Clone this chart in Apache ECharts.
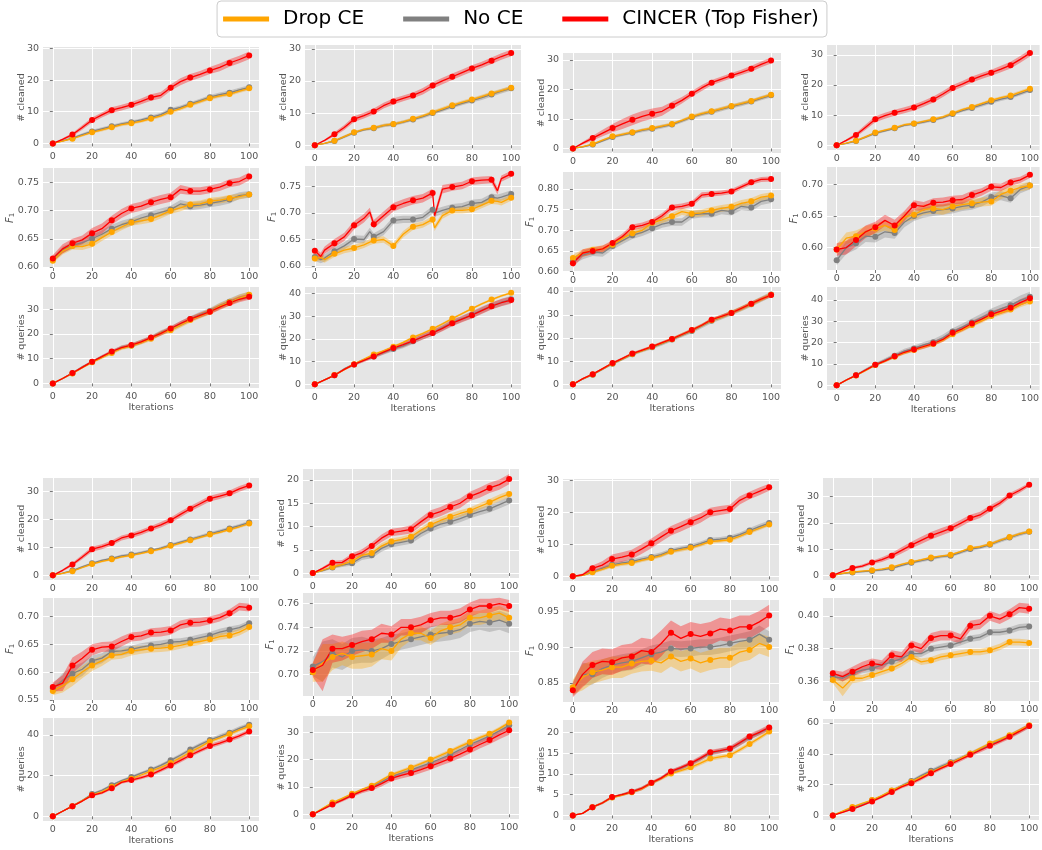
<!DOCTYPE html>
<html><head><meta charset="utf-8">
<script src="https://cdn.jsdelivr.net/npm/echarts@6/dist/echarts.min.js"></script>
<style>html,body{margin:0;padding:0;background:#fff}#c{width:1042px;height:850px}</style>
</head><body><div id="c"></div>
<script>
// ---------------- DATA ----------------
const ITERS = [0,5,10,15,20,25,30,35,40,45,50,55,60,65,70,75,80,85,90,95,100];
const ITERS_T2_F1 = [0,3,5,10,15,20,25,28,30,35,40,45,50,55,60,61,65,70,75,80,85,90,93,95,100];
const SERIES_NAMES = ['Drop CE','No CE','CINCER (Top Fisher)'];
const X_TICKS = ['0','20','40','60','80','100'];

// each array: [Drop CE, No CE, CINCER]
const T1_cleaned = [
 [0,0.7,1.5,2.5,3.5,4.3,5.1,5.9,6.4,7.0,7.8,8.7,10.0,11.0,12.2,13.2,14.3,15.0,15.6,16.5,17.4],
 [0,0.8,1.7,2.8,3.8,4.6,5.4,6.2,6.7,7.4,8.2,9.1,10.6,11.4,12.5,13.5,14.6,15.4,16.0,16.9,17.7],
 [0,1.3,2.8,5.0,7.4,9.0,10.5,11.3,12.2,13.3,14.5,15.2,17.6,19.5,20.8,21.8,23.0,24.0,25.4,26.5,27.8]];
const T1_cleaned_sd = [
 [0,0.2,0.3,0.4,0.4,0.5,0.5,0.5,0.5,0.5,0.5,0.5,0.6,0.6,0.6,0.6,0.6,0.6,0.6,0.6,0.6],
 [0,0.2,0.3,0.4,0.5,0.5,0.5,0.5,0.5,0.5,0.6,0.6,0.6,0.6,0.6,0.6,0.7,0.7,0.7,0.7,0.7],
 [0,0.3,0.5,0.7,0.8,0.8,0.9,0.9,0.9,0.9,1.0,1.0,1.0,1.1,1.1,1.1,1.1,1.2,1.2,1.2,1.2]];
const T1_f1 = [
 [0.611,0.628,0.637,0.636,0.641,0.652,0.662,0.671,0.679,0.682,0.685,0.692,0.700,0.705,0.711,0.712,0.717,0.719,0.722,0.725,0.729],
 [0.613,0.630,0.638,0.643,0.650,0.658,0.668,0.675,0.680,0.687,0.692,0.697,0.702,0.712,0.708,0.710,0.713,0.716,0.720,0.727,0.729],
 [0.615,0.632,0.642,0.648,0.660,0.668,0.683,0.695,0.704,0.708,0.715,0.720,0.724,0.738,0.735,0.735,0.738,0.742,0.749,0.752,0.761]];
const T1_f1_sd = [
 [0.005,0.006,0.006,0.006,0.006,0.006,0.006,0.006,0.006,0.006,0.006,0.006,0.006,0.006,0.006,0.006,0.006,0.006,0.006,0.005,0.005],
 [0.005,0.006,0.006,0.007,0.007,0.007,0.007,0.007,0.007,0.007,0.007,0.007,0.007,0.007,0.007,0.007,0.007,0.007,0.007,0.006,0.006],
 [0.006,0.008,0.008,0.008,0.009,0.009,0.008,0.008,0.008,0.008,0.008,0.008,0.008,0.008,0.007,0.007,0.007,0.007,0.007,0.007,0.007]];
const T1_queries = [
 [0,2.0,4.0,6.4,8.5,10.5,12.3,14.2,15.2,16.5,18.0,20.3,21.5,23.5,25.6,27.3,29.0,31.2,32.8,34.5,35.8],
 [0,2.0,4.1,6.6,8.7,10.8,12.6,14.6,15.3,16.8,18.4,20.5,22.0,24.0,26.0,27.8,29.3,31.3,33.0,34.6,35.6],
 [0,2.0,4.2,6.5,8.8,10.8,12.9,14.5,15.5,16.8,18.5,20.2,22.2,24.2,26.0,27.5,29.0,30.8,32.5,34.0,35.0]];
const T1_queries_sd = [
 [0,0.3,0.4,0.5,0.5,0.6,0.7,0.7,0.8,0.8,0.9,0.9,1.0,1.0,1.1,1.1,1.2,1.2,1.3,1.3,1.3],
 [0,0.3,0.4,0.5,0.6,0.7,0.7,0.8,0.8,0.9,0.9,1.0,1.0,1.1,1.1,1.2,1.2,1.3,1.3,1.4,1.4],
 [0,0.3,0.4,0.5,0.5,0.6,0.6,0.7,0.7,0.8,0.8,0.9,0.9,1.0,1.0,1.0,1.1,1.1,1.1,1.2,1.2]];

const T2_cleaned = [
 [0,0.6,1.4,2.7,4.0,4.9,5.4,6.2,6.6,7.3,8.2,9.1,10.2,11.3,12.4,13.3,14.2,15.1,16.1,17.0,17.9],
 [0,0.6,1.3,2.6,3.9,4.8,5.3,6.1,6.5,7.2,8.0,8.9,10.0,11.0,12.1,13.0,13.9,14.8,15.8,16.8,17.7],
 [0,1.5,3.4,5.5,8.1,9.2,10.5,12.3,13.6,14.6,15.5,16.8,18.6,20.0,21.3,22.6,23.9,25.0,26.3,27.6,28.7]];
const T2_cleaned_sd = [
 [0,0.2,0.3,0.4,0.4,0.4,0.4,0.5,0.5,0.5,0.5,0.5,0.6,0.6,0.6,0.6,0.6,0.6,0.6,0.6,0.6],
 [0,0.2,0.3,0.4,0.4,0.4,0.5,0.5,0.5,0.5,0.5,0.6,0.6,0.6,0.6,0.6,0.6,0.7,0.7,0.7,0.7],
 [0,0.3,0.6,0.8,0.9,0.9,0.9,0.9,0.9,0.9,0.9,1.0,1.0,1.0,1.0,1.0,1.0,1.0,1.0,1.0,1.0]];
const T2_f1 = [
 [0.614,0.616,0.612,0.623,0.630,0.634,0.640,0.645,0.648,0.650,0.638,0.660,0.674,0.678,0.688,0.672,0.695,0.705,0.705,0.707,0.715,0.723,0.722,0.720,0.729],
 [0.617,0.612,0.615,0.628,0.638,0.651,0.650,0.665,0.655,0.665,0.686,0.688,0.688,0.692,0.706,0.700,0.705,0.710,0.712,0.718,0.720,0.730,0.728,0.730,0.736],
 [0.629,0.618,0.630,0.643,0.655,0.677,0.690,0.702,0.679,0.695,0.711,0.718,0.724,0.728,0.738,0.695,0.745,0.749,0.752,0.760,0.762,0.763,0.742,0.765,0.774]];
const T2_f1_sd = [
 [0.006,0.006,0.006,0.006,0.006,0.006,0.006,0.006,0.006,0.006,0.006,0.006,0.006,0.006,0.006,0.006,0.006,0.006,0.006,0.006,0.006,0.006,0.006,0.006,0.006],
 [0.007,0.007,0.007,0.007,0.007,0.007,0.007,0.007,0.007,0.007,0.007,0.007,0.007,0.007,0.007,0.007,0.007,0.007,0.007,0.007,0.007,0.007,0.007,0.007,0.007],
 [0.006,0.007,0.007,0.008,0.008,0.008,0.008,0.008,0.008,0.008,0.008,0.008,0.008,0.008,0.008,0.008,0.008,0.007,0.007,0.007,0.007,0.007,0.007,0.006,0.006]];
const T2_queries = [
 [0,2.0,4.1,6.5,8.9,11.0,13.2,14.8,16.6,18.5,20.7,22.5,24.5,26.7,29.0,31.2,33.4,35.5,37.4,39.0,40.4],
 [0,2.0,4.0,6.8,8.8,10.7,12.3,14.0,15.6,17.0,19.0,21.0,22.7,25.0,27.3,29.0,30.7,32.8,34.6,36.2,37.5],
 [0,2.0,4.0,6.6,8.8,10.6,12.3,14.2,16.0,17.5,19.2,21.0,22.7,24.7,27.0,28.8,30.5,32.5,34.5,36.0,37.2]];
const T2_queries_sd = [
 [0,0.2,0.3,0.4,0.4,0.5,0.5,0.5,0.5,0.5,0.5,0.5,0.5,0.5,0.5,0.5,0.5,0.5,0.5,0.5,0.5],
 [0,0.3,0.4,0.5,0.6,0.7,0.8,0.9,1.0,1.1,1.2,1.2,1.3,1.3,1.4,1.4,1.5,1.5,1.5,1.6,1.6],
 [0,0.3,0.4,0.5,0.6,0.7,0.8,0.9,1.0,1.1,1.1,1.2,1.3,1.3,1.4,1.4,1.5,1.5,1.5,1.6,1.6]];

const T3_cleaned = [
 [0,0.6,1.5,2.8,4.1,4.8,5.5,6.3,6.9,7.6,8.3,9.5,10.8,11.8,12.6,13.5,14.4,15.2,16.1,17.2,18.2],
 [0,0.5,1.3,2.6,3.9,4.6,5.3,6.1,6.7,7.4,8.1,9.3,10.6,11.6,12.4,13.3,14.2,15.0,15.9,17.0,18.0],
 [0,1.8,3.5,5.2,6.9,8.3,9.7,10.9,11.8,12.6,14.5,16.3,18.5,20.5,22.3,23.5,24.7,25.8,27.0,28.5,29.8]];
const T3_cleaned_sd = [
 [0,0.2,0.3,0.4,0.4,0.5,0.5,0.5,0.5,0.5,0.5,0.5,0.6,0.6,0.6,0.6,0.6,0.6,0.6,0.6,0.6],
 [0,0.2,0.3,0.4,0.5,0.5,0.5,0.6,0.6,0.6,0.6,0.6,0.6,0.6,0.7,0.7,0.7,0.7,0.7,0.7,0.7],
 [0,0.5,0.8,1.1,1.4,1.7,1.8,1.8,1.7,1.5,1.3,1.1,1.0,1.0,0.9,0.9,0.9,0.9,1.0,1.0,1.0]];
const T3_f1 = [
 [0.633,0.645,0.652,0.655,0.665,0.680,0.693,0.700,0.718,0.725,0.734,0.745,0.740,0.742,0.748,0.753,0.757,0.765,0.770,0.780,0.784],
 [0.625,0.640,0.648,0.645,0.662,0.675,0.688,0.695,0.705,0.715,0.720,0.720,0.737,0.740,0.740,0.748,0.745,0.758,0.755,0.770,0.775],
 [0.620,0.645,0.650,0.655,0.669,0.685,0.707,0.712,0.720,0.735,0.755,0.758,0.764,0.785,0.788,0.790,0.794,0.805,0.816,0.823,0.824]];
const T3_f1_sd = [
 [0.008,0.009,0.009,0.008,0.008,0.008,0.008,0.008,0.008,0.008,0.008,0.008,0.008,0.008,0.008,0.008,0.008,0.008,0.008,0.008,0.008],
 [0.008,0.010,0.010,0.009,0.009,0.009,0.009,0.009,0.009,0.009,0.009,0.009,0.009,0.009,0.009,0.009,0.009,0.009,0.009,0.009,0.009],
 [0.010,0.009,0.008,0.008,0.007,0.007,0.007,0.007,0.007,0.007,0.007,0.007,0.007,0.007,0.006,0.006,0.006,0.006,0.006,0.006,0.006]];
const T3_queries = [
 [0,2.4,4.3,6.7,9.0,11.0,13.1,14.6,16.2,17.8,19.5,21.4,23.3,25.4,27.7,29.1,30.9,32.7,34.7,36.7,38.7],
 [0,2.3,4.2,6.6,8.9,10.9,13.0,14.5,16.0,17.6,19.3,21.2,23.0,25.2,27.4,29.0,30.8,32.6,34.6,36.7,38.8],
 [0,2.5,4.4,6.8,9.2,11.2,13.3,14.8,16.3,18.0,19.6,21.5,23.4,25.5,27.9,29.3,30.8,32.8,34.8,36.8,38.5]];
const T3_queries_sd = [
 [0,0.3,0.4,0.5,0.5,0.6,0.6,0.6,0.7,0.7,0.7,0.8,0.8,0.8,0.9,0.9,0.9,1.0,1.0,1.0,1.0],
 [0,0.3,0.4,0.5,0.6,0.6,0.7,0.7,0.8,0.8,0.8,0.9,0.9,1.0,1.0,1.0,1.1,1.1,1.1,1.2,1.2],
 [0,0.3,0.4,0.4,0.5,0.5,0.5,0.6,0.6,0.6,0.6,0.7,0.7,0.7,0.7,0.8,0.8,0.8,0.8,0.8,0.8]];

const T4_cleaned = [
 [0,0.7,1.5,2.8,4.2,5.0,5.8,6.8,7.2,7.9,8.6,9.4,10.6,11.8,12.7,13.8,14.9,15.8,16.5,17.6,18.75],
 [0,0.6,1.4,2.7,4.0,4.8,5.6,6.6,7.1,7.7,8.4,9.2,10.4,11.5,12.4,13.4,14.4,15.3,16.0,17.1,18.3],
 [0,1.6,3.4,6.0,8.6,9.8,10.8,11.6,12.5,13.8,15.2,17.0,19.0,20.3,21.8,23.0,24.1,25.3,26.6,28.5,30.6]];
const T4_cleaned_sd = [
 [0,0.2,0.3,0.4,0.4,0.4,0.4,0.4,0.4,0.4,0.5,0.5,0.5,0.5,0.5,0.5,0.5,0.5,0.6,0.6,0.6],
 [0,0.2,0.3,0.4,0.4,0.4,0.4,0.4,0.5,0.5,0.5,0.5,0.5,0.5,0.6,0.6,0.6,0.6,0.6,0.6,0.6],
 [0,0.4,0.7,0.9,1.0,1.0,1.0,1.0,1.0,1.0,1.0,1.0,1.0,1.0,1.0,1.0,1.0,1.1,1.1,1.1,1.1]];
const T4_f1 = [
 [0.597,0.615,0.618,0.625,0.630,0.635,0.628,0.648,0.652,0.660,0.662,0.660,0.665,0.668,0.670,0.672,0.673,0.684,0.690,0.695,0.698],
 [0.580,0.600,0.607,0.618,0.617,0.625,0.623,0.640,0.650,0.655,0.658,0.660,0.662,0.665,0.667,0.672,0.680,0.682,0.678,0.692,0.698],
 [0.597,0.600,0.612,0.625,0.632,0.643,0.635,0.650,0.667,0.665,0.671,0.672,0.675,0.676,0.683,0.688,0.696,0.695,0.703,0.707,0.715]];
const T4_f1_sd = [
 [0.008,0.009,0.009,0.009,0.008,0.008,0.008,0.008,0.008,0.008,0.008,0.008,0.008,0.008,0.007,0.007,0.007,0.007,0.007,0.006,0.006],
 [0.008,0.010,0.010,0.009,0.009,0.009,0.009,0.008,0.008,0.008,0.008,0.008,0.008,0.007,0.007,0.007,0.007,0.007,0.007,0.006,0.006],
 [0.010,0.011,0.010,0.010,0.009,0.009,0.009,0.008,0.008,0.007,0.007,0.007,0.007,0.007,0.007,0.006,0.006,0.006,0.006,0.005,0.005]];
const T4_queries = [
 [0,2.4,4.6,7.0,9.5,11.3,13.4,15.2,16.5,18.0,19.4,21.2,24.0,26.0,28.3,30.2,32.5,34.0,35.5,37.8,39.3],
 [0,2.5,4.7,7.3,9.7,11.8,13.9,16.0,17.3,19.0,20.2,22.3,25.2,27.3,29.5,31.8,34.0,35.8,37.5,39.8,41.5],
 [0,2.5,4.7,7.2,9.6,11.5,13.6,15.5,16.8,18.2,19.6,21.5,24.6,26.5,29.0,31.0,33.3,34.8,36.4,38.8,40.8]];
const T4_queries_sd = [
 [0,0.3,0.4,0.5,0.5,0.6,0.6,0.7,0.7,0.8,0.8,0.9,0.9,1.0,1.0,1.0,1.1,1.1,1.1,1.2,1.2],
 [0,0.4,0.5,0.7,0.8,0.9,1.0,1.1,1.2,1.3,1.4,1.5,1.6,1.7,1.8,1.9,2.0,2.1,2.2,2.3,2.4],
 [0,0.3,0.4,0.5,0.6,0.7,0.8,0.9,1.0,1.0,1.1,1.1,1.2,1.2,1.3,1.3,1.4,1.4,1.5,1.5,1.5]];

const B1_cleaned = [
 [0,0.7,1.5,2.8,4.0,5.0,5.7,6.6,7.1,7.8,8.6,9.4,10.5,11.5,12.5,13.5,14.5,15.3,16.3,17.3,18.45],
 [0,0.8,1.7,3.0,4.3,5.3,6.0,6.9,7.4,8.1,8.9,9.7,10.8,11.8,12.8,13.8,14.8,15.7,16.7,17.7,18.8],
 [0,1.8,3.9,6.5,9.3,10.2,11.5,13.3,14.2,15.3,16.7,18.0,19.6,21.7,23.7,25.5,27.3,28.2,29.2,30.8,32.0]];
const B1_cleaned_sd = [
 [0,0.2,0.3,0.4,0.4,0.4,0.4,0.4,0.4,0.4,0.5,0.5,0.5,0.5,0.5,0.5,0.5,0.5,0.5,0.5,0.5],
 [0,0.2,0.3,0.4,0.4,0.4,0.4,0.5,0.5,0.5,0.5,0.5,0.5,0.5,0.6,0.6,0.6,0.6,0.6,0.6,0.6],
 [0,0.4,0.6,0.8,0.9,0.9,0.9,0.9,0.9,0.9,0.9,1.0,1.0,1.0,1.0,1.0,1.0,1.0,1.0,1.0,1.0]];
const B1_f1 = [
 [0.566,0.575,0.587,0.600,0.612,0.620,0.630,0.632,0.638,0.640,0.642,0.643,0.645,0.648,0.652,0.655,0.659,0.664,0.666,0.672,0.681],
 [0.570,0.585,0.597,0.605,0.620,0.625,0.637,0.638,0.641,0.645,0.648,0.650,0.654,0.655,0.658,0.662,0.666,0.672,0.676,0.680,0.688],
 [0.573,0.580,0.612,0.625,0.640,0.645,0.646,0.655,0.663,0.665,0.671,0.672,0.675,0.685,0.689,0.690,0.693,0.698,0.706,0.718,0.716]];
const B1_f1_sd = [
 [0.008,0.012,0.012,0.011,0.010,0.009,0.008,0.008,0.008,0.007,0.007,0.007,0.007,0.006,0.006,0.006,0.006,0.006,0.006,0.006,0.006],
 [0.008,0.013,0.013,0.012,0.010,0.009,0.008,0.008,0.007,0.007,0.007,0.007,0.006,0.006,0.006,0.006,0.006,0.006,0.006,0.005,0.005],
 [0.008,0.014,0.014,0.012,0.010,0.009,0.009,0.009,0.008,0.008,0.008,0.008,0.008,0.008,0.008,0.008,0.007,0.007,0.007,0.007,0.007]];
const B1_queries = [
 [0,2.5,5.0,7.7,10.5,12.0,14.5,17.0,18.5,20.3,22.2,24.0,26.2,28.8,31.5,34.0,36.8,38.5,40.5,42.5,44.2],
 [0,2.5,5.0,7.8,11.0,12.8,15.3,17.5,19.3,21.2,23.0,25.0,27.5,30.0,32.8,35.2,37.5,39.3,41.0,43.2,45.0],
 [0,2.5,5.0,7.5,10.3,11.5,13.8,16.7,17.8,19.0,20.5,22.7,25.0,27.5,30.0,32.3,34.5,36.0,37.7,39.5,41.7]];
const B1_queries_sd = [
 [0,0.3,0.4,0.5,0.5,0.5,0.6,0.6,0.6,0.7,0.7,0.7,0.8,0.8,0.8,0.9,0.9,0.9,1.0,1.0,1.0],
 [0,0.3,0.4,0.5,0.5,0.6,0.6,0.6,0.7,0.7,0.7,0.8,0.8,0.8,0.9,0.9,0.9,1.0,1.0,1.0,1.0],
 [0,0.3,0.4,0.5,0.6,0.6,0.7,0.7,0.8,0.8,0.9,0.9,1.0,1.0,1.0,1.0,1.1,1.1,1.1,1.1,1.1]];

const B2_cleaned = [
 [0,0.6,1.3,1.8,2.6,3.8,4.3,5.8,6.8,7.2,7.8,9.2,10.4,11.3,12.1,12.8,13.4,14.3,15.2,16.2,17.0],
 [0,0.5,1.2,1.7,2.1,3.4,3.8,5.3,6.2,6.6,7.0,8.5,9.6,10.5,11.0,11.7,12.5,13.2,13.8,14.7,15.6],
 [0,1.0,2.2,2.3,3.6,4.4,5.8,7.5,8.7,9.0,9.4,11.0,12.5,13.2,14.2,15.0,16.5,17.3,18.3,19.0,20.2]];
const B2_cleaned_sd = [
 [0,0.2,0.3,0.4,0.5,0.5,0.6,0.6,0.6,0.6,0.6,0.6,0.7,0.7,0.7,0.7,0.7,0.7,0.7,0.7,0.7],
 [0,0.2,0.3,0.4,0.5,0.6,0.6,0.7,0.7,0.7,0.7,0.8,0.8,0.8,0.8,0.8,0.8,0.8,0.8,0.8,0.8],
 [0,0.3,0.4,0.5,0.6,0.7,0.7,0.8,0.8,0.8,0.9,0.9,1.0,1.0,1.0,1.0,1.0,1.1,1.1,1.1,1.1]];
const B2_f1 = [
 [0.702,0.710,0.715,0.718,0.715,0.716,0.717,0.722,0.720,0.730,0.735,0.735,0.731,0.737,0.740,0.742,0.748,0.748,0.750,0.752,0.748],
 [0.707,0.711,0.718,0.715,0.720,0.721,0.720,0.722,0.726,0.728,0.730,0.732,0.734,0.735,0.736,0.738,0.743,0.745,0.744,0.746,0.743],
 [0.704,0.708,0.722,0.722,0.725,0.728,0.730,0.735,0.734,0.740,0.740,0.742,0.746,0.748,0.748,0.750,0.755,0.758,0.758,0.760,0.758]];
const B2_f1_sd = [
 [0.008,0.016,0.011,0.010,0.010,0.011,0.010,0.009,0.008,0.007,0.006,0.006,0.006,0.006,0.006,0.006,0.006,0.006,0.006,0.006,0.006],
 [0.008,0.017,0.012,0.011,0.011,0.011,0.010,0.009,0.008,0.007,0.007,0.007,0.007,0.007,0.007,0.007,0.007,0.007,0.008,0.008,0.008],
 [0.006,0.022,0.012,0.010,0.009,0.009,0.008,0.008,0.007,0.007,0.007,0.007,0.006,0.006,0.006,0.006,0.006,0.006,0.006,0.005,0.005]];
const B2_queries = [
 [0,2.2,4.3,5.8,7.5,9.0,10.4,12.5,14.5,15.8,17.1,18.5,20.0,21.5,23.1,24.8,26.4,28.0,29.4,31.3,33.5],
 [0,2.0,3.9,5.5,7.2,8.7,10.0,11.8,13.8,15.0,16.2,17.5,18.8,20.3,21.8,23.6,25.5,27.0,28.6,30.5,32.5],
 [0,1.8,3.6,5.2,6.9,8.5,9.6,11.2,13.1,14.2,15.1,16.3,17.6,19.0,20.4,22.0,23.7,25.5,27.1,29.0,30.7]];
const B2_queries_sd = [
 [0,0.2,0.3,0.4,0.4,0.5,0.5,0.5,0.6,0.6,0.6,0.6,0.6,0.7,0.7,0.7,0.7,0.7,0.7,0.7,0.7],
 [0,0.3,0.4,0.5,0.6,0.6,0.7,0.7,0.8,0.8,0.8,0.9,0.9,0.9,1.0,1.0,1.0,1.0,1.1,1.1,1.1],
 [0,0.3,0.5,0.6,0.7,0.8,0.9,1.0,1.0,1.1,1.2,1.2,1.3,1.3,1.4,1.4,1.5,1.5,1.5,1.6,1.6]];

const B3_cleaned = [
 [0,0.3,1.25,2.2,3.3,3.8,4.2,5.0,5.7,6.5,7.7,8.3,8.9,9.8,10.8,11.1,11.4,12.5,13.8,15.0,16.2],
 [0,0.3,1.4,2.5,3.6,4.2,4.6,5.4,6.0,6.8,8.0,8.7,9.3,10.2,11.3,11.6,12.0,13.0,14.3,15.5,16.6],
 [0,0.5,2.5,3.5,5.4,6.0,6.8,8.5,10.3,12.3,14.2,15.5,16.9,18.2,20.0,20.5,21.0,23.7,25.2,26.5,27.8]];
const B3_cleaned_sd = [
 [0,0.2,0.4,0.5,0.6,0.6,0.6,0.6,0.6,0.6,0.6,0.6,0.6,0.6,0.6,0.6,0.6,0.6,0.6,0.6,0.6],
 [0,0.2,0.4,0.5,0.6,0.6,0.7,0.7,0.7,0.7,0.7,0.7,0.7,0.7,0.7,0.7,0.7,0.7,0.8,0.8,0.8],
 [0,0.4,0.9,1.2,1.4,1.5,1.5,1.5,1.5,1.5,1.5,1.5,1.5,1.5,1.4,1.4,1.3,1.3,1.2,1.2,1.1]];
const B3_f1 = [
 [0.844,0.858,0.865,0.868,0.872,0.872,0.877,0.880,0.881,0.878,0.887,0.880,0.884,0.878,0.882,0.885,0.885,0.893,0.896,0.905,0.900],
 [0.842,0.862,0.862,0.870,0.875,0.878,0.880,0.885,0.890,0.893,0.898,0.897,0.898,0.900,0.900,0.902,0.905,0.908,0.910,0.918,0.910],
 [0.840,0.862,0.875,0.880,0.879,0.885,0.887,0.895,0.893,0.905,0.920,0.912,0.918,0.915,0.919,0.925,0.923,0.928,0.928,0.935,0.944]];
const B3_f1_sd = [
 [0.010,0.018,0.016,0.015,0.015,0.015,0.014,0.014,0.014,0.014,0.014,0.014,0.014,0.014,0.014,0.014,0.014,0.014,0.014,0.014,0.014],
 [0.010,0.016,0.014,0.013,0.012,0.012,0.012,0.012,0.012,0.012,0.011,0.011,0.011,0.011,0.011,0.011,0.011,0.011,0.012,0.012,0.012],
 [0.010,0.018,0.018,0.018,0.018,0.018,0.018,0.018,0.018,0.018,0.017,0.017,0.017,0.017,0.016,0.016,0.016,0.016,0.016,0.015,0.015]];
const B3_queries = [
 [0,0.5,2.0,3.0,4.3,4.9,5.6,6.4,7.8,8.9,10.1,10.8,11.6,12.6,13.7,14.1,14.5,15.8,17.2,18.7,20.2],
 [0,0.5,2.0,3.0,4.4,5.0,5.7,6.5,7.8,9.0,10.5,11.4,12.4,13.7,15.0,15.5,16.0,17.4,18.8,19.9,21.0],
 [0,0.5,2.0,3.0,4.45,5.0,5.7,6.5,7.85,9.0,10.6,11.5,12.55,13.8,15.2,15.6,16.1,17.5,19.0,20.0,21.2]];
const B3_queries_sd = [
 [0,0.1,0.2,0.3,0.3,0.3,0.3,0.4,0.4,0.4,0.4,0.4,0.5,0.5,0.5,0.5,0.5,0.5,0.5,0.5,0.5],
 [0,0.1,0.2,0.3,0.3,0.3,0.4,0.4,0.4,0.4,0.5,0.5,0.5,0.5,0.5,0.6,0.6,0.6,0.6,0.6,0.6],
 [0,0.1,0.2,0.3,0.3,0.3,0.4,0.4,0.4,0.4,0.5,0.5,0.5,0.6,0.6,0.6,0.6,0.7,0.7,0.7,0.7]];

const B4_cleaned = [
 [0,0.8,1.25,1.6,1.9,2.4,3.1,4.2,5.1,5.9,6.8,7.3,7.8,9.0,10.4,10.9,11.9,13.3,14.6,15.8,16.7],
 [0,0.7,1.1,1.4,1.7,2.1,2.7,3.8,4.8,5.6,6.4,7.1,7.5,8.7,10.0,10.6,11.7,13.1,14.4,15.6,16.6],
 [0,1.5,2.8,3.5,4.9,6.0,7.5,9.5,11.5,13.3,15.1,16.5,17.9,19.8,21.8,23.0,25.4,27.5,30.4,32.3,34.5]];
const B4_cleaned_sd = [
 [0,0.2,0.3,0.3,0.3,0.3,0.4,0.4,0.4,0.4,0.4,0.4,0.4,0.4,0.5,0.5,0.5,0.5,0.5,0.5,0.5],
 [0,0.2,0.3,0.3,0.4,0.4,0.5,0.5,0.5,0.6,0.6,0.6,0.6,0.6,0.7,0.7,0.7,0.7,0.7,0.7,0.7],
 [0,0.3,0.5,0.6,0.7,0.9,1.0,1.2,1.3,1.4,1.4,1.4,1.4,1.3,1.3,1.2,1.2,1.1,1.0,0.9,0.8]];
const B4_f1 = [
 [0.361,0.356,0.362,0.362,0.364,0.366,0.368,0.371,0.375,0.372,0.373,0.375,0.376,0.377,0.378,0.378,0.379,0.381,0.384,0.384,0.3835],
 [0.363,0.362,0.365,0.367,0.368,0.370,0.372,0.374,0.377,0.377,0.380,0.381,0.382,0.384,0.386,0.387,0.390,0.390,0.391,0.393,0.3935],
 [0.365,0.363,0.366,0.369,0.371,0.370,0.376,0.375,0.382,0.380,0.3865,0.388,0.388,0.386,0.394,0.395,0.400,0.398,0.401,0.405,0.4043]];
const B4_f1_sd = [
 [0.002,0.005,0.003,0.002,0.002,0.002,0.002,0.002,0.002,0.002,0.002,0.002,0.002,0.002,0.002,0.002,0.002,0.002,0.002,0.002,0.002],
 [0.002,0.002,0.002,0.002,0.002,0.002,0.002,0.002,0.002,0.002,0.002,0.002,0.002,0.002,0.002,0.002,0.002,0.002,0.002,0.002,0.002],
 [0.002,0.003,0.003,0.003,0.003,0.003,0.003,0.003,0.003,0.003,0.003,0.003,0.003,0.003,0.003,0.003,0.003,0.003,0.003,0.003,0.003]];
const B4_queries = [
 [0,2.8,5.5,7.8,10.0,12.8,16.2,19.0,21.8,25.0,28.0,31.0,34.0,37.0,40.2,43.5,46.7,49.3,52.0,55.2,58.5],
 [0,2.4,4.8,7.2,9.8,12.6,16.0,19.2,22.3,25.8,29.0,31.8,34.5,37.2,40.0,43.0,46.0,48.8,51.5,54.8,58.2],
 [0,2.0,4.1,6.5,9.1,12.0,15.2,18.5,20.9,24.0,27.4,30.5,33.3,36.3,39.3,42.3,45.2,48.0,51.1,54.5,58.0]];
const B4_queries_sd = [
 [0,0.3,0.4,0.5,0.5,0.6,0.6,0.7,0.7,0.7,0.8,0.8,0.8,0.8,0.9,0.9,0.9,0.9,1.0,1.0,1.0],
 [0,0.3,0.5,0.6,0.7,0.8,0.9,1.0,1.0,1.1,1.1,1.2,1.2,1.2,1.3,1.3,1.3,1.4,1.4,1.4,1.4],
 [0,0.3,0.5,0.6,0.7,0.8,0.9,1.0,1.1,1.1,1.2,1.2,1.3,1.3,1.3,1.4,1.4,1.4,1.5,1.5,1.5]];

// y tick labels
const TICKS_C30 = ['0','10','20','30'];
const TICKS_C20 = ['0','5','10','15','20'];
const TICKS_Q40 = ['0','10','20','30','40'];
const TICKS_Q40B = ['0','20','40'];
const TICKS_Q30 = ['0','10','20','30'];
const TICKS_Q20 = ['0','5','10','15','20'];
const TICKS_Q60 = ['0','20','40','60'];
const TICKS_T1_F1 = ['0.60','0.65','0.70','0.75'];
const TICKS_T3_F1 = ['0.60','0.65','0.70','0.75','0.80'];
const TICKS_T4_F1 = ['0.60','0.65','0.70'];
const TICKS_B1_F1 = ['0.55','0.60','0.65','0.70'];
const TICKS_B2_F1 = ['0.70','0.72','0.74','0.76'];
const TICKS_B3_F1 = ['0.85','0.90','0.95'];
const TICKS_B4_F1 = ['0.36','0.38','0.40'];

// ---------------- LAYOUT / STYLE ----------------
const COLORS = ['#FFA500', '#808080', '#FF0000'];
const DRAW_ORDER = [1, 0, 2];
const FONT = 'DejaVu Sans';
const TOP_X = [[43,259],[305,521],[563,781],[827,1040]];
const BOT_X = [[43,259],[303,519],[563,779],[823,1039]];
const TOP_Y = [[[47,148],[168,268],[287,388]],[[45,150],[166,268],[287,389]],[[53,153],[172,272],[287,389]],[[45,150],[167,270],[287,390]]];
const BOT_Y = [[[478,580],[598,700],[718,821]],[[469,578],[593,696],[716,819]],[[479,581],[600,702],[720,820]],[[478,580],[598,701],[719,820]]];

const PANELS = [
 {m:T1_cleaned, s:T1_cleaned_sd, x:ITERS, t:TICKS_C30, k:'cleaned', g:0, c:0, r:0},
 {m:T1_f1, s:T1_f1_sd, x:ITERS, t:TICKS_T1_F1, k:'f1', g:0, c:0, r:1},
 {m:T1_queries, s:T1_queries_sd, x:ITERS, t:TICKS_Q40, k:'queries', g:0, c:0, r:2},
 {m:T2_cleaned, s:T2_cleaned_sd, x:ITERS, t:TICKS_C30, k:'cleaned', g:0, c:1, r:0},
 {m:T2_f1, s:T2_f1_sd, x:ITERS_T2_F1, t:TICKS_T1_F1, k:'f1', g:0, c:1, r:1},
 {m:T2_queries, s:T2_queries_sd, x:ITERS, t:TICKS_Q40, k:'queries', g:0, c:1, r:2},
 {m:T3_cleaned, s:T3_cleaned_sd, x:ITERS, t:TICKS_C30, k:'cleaned', g:0, c:2, r:0},
 {m:T3_f1, s:T3_f1_sd, x:ITERS, t:TICKS_T3_F1, k:'f1', g:0, c:2, r:1},
 {m:T3_queries, s:T3_queries_sd, x:ITERS, t:TICKS_Q40, k:'queries', g:0, c:2, r:2},
 {m:T4_cleaned, s:T4_cleaned_sd, x:ITERS, t:TICKS_C30, k:'cleaned', g:0, c:3, r:0},
 {m:T4_f1, s:T4_f1_sd, x:ITERS, t:TICKS_T4_F1, k:'f1', g:0, c:3, r:1},
 {m:T4_queries, s:T4_queries_sd, x:ITERS, t:TICKS_Q40, k:'queries', g:0, c:3, r:2},
 {m:B1_cleaned, s:B1_cleaned_sd, x:ITERS, t:TICKS_C30, k:'cleaned', g:1, c:0, r:0},
 {m:B1_f1, s:B1_f1_sd, x:ITERS, t:TICKS_B1_F1, k:'f1', g:1, c:0, r:1},
 {m:B1_queries, s:B1_queries_sd, x:ITERS, t:TICKS_Q40B, k:'queries', g:1, c:0, r:2},
 {m:B2_cleaned, s:B2_cleaned_sd, x:ITERS, t:TICKS_C20, k:'cleaned', g:1, c:1, r:0},
 {m:B2_f1, s:B2_f1_sd, x:ITERS, t:TICKS_B2_F1, k:'f1', g:1, c:1, r:1},
 {m:B2_queries, s:B2_queries_sd, x:ITERS, t:TICKS_Q30, k:'queries', g:1, c:1, r:2},
 {m:B3_cleaned, s:B3_cleaned_sd, x:ITERS, t:TICKS_C30, k:'cleaned', g:1, c:2, r:0},
 {m:B3_f1, s:B3_f1_sd, x:ITERS, t:TICKS_B3_F1, k:'f1', g:1, c:2, r:1},
 {m:B3_queries, s:B3_queries_sd, x:ITERS, t:TICKS_Q20, k:'queries', g:1, c:2, r:2},
 {m:B4_cleaned, s:B4_cleaned_sd, x:ITERS, t:TICKS_C30, k:'cleaned', g:1, c:3, r:0},
 {m:B4_f1, s:B4_f1_sd, x:ITERS, t:TICKS_B4_F1, k:'f1', g:1, c:3, r:1},
 {m:B4_queries, s:B4_queries_sd, x:ITERS, t:TICKS_Q60, k:'queries', g:1, c:3, r:2}
];

function yLimits(m, s) {
  let lo = Infinity, hi = -Infinity;
  for (let k = 0; k < 3; k++) for (let i = 0; i < m[k].length; i++) {
    lo = Math.min(lo, m[k][i] - s[k][i]);
    hi = Math.max(hi, m[k][i] + s[k][i]);
  }
  const pad = (hi - lo) * 0.05;
  return [lo - pad, hi + pad];
}

const grids = [], xAxes = [], yAxes = [], series = [];
const axisLabelStyle = {color: '#555', fontSize: 9.5, fontFamily: FONT};

PANELS.forEach((p, gi) => {
  const xr = p.g === 0 ? TOP_X[p.c] : BOT_X[p.c];
  const yr = (p.g === 0 ? TOP_Y : BOT_Y)[p.c][p.r];
  grids.push({left: xr[0], top: yr[0], width: xr[1] - xr[0], height: yr[1] - yr[0],
    show: true, backgroundColor: '#E5E5E5', borderWidth: 0, containLabel: false});
  const xVals = X_TICKS.map(Number);
  xAxes.push({type: 'value', gridIndex: gi, min: -5, max: 105,
    axisLine: {show: false},
    axisTick: {show: true, length: 3, lineStyle: {color: '#555', width: 0.8}, customValues: xVals},
    axisLabel: Object.assign({customValues: xVals, margin: 4}, axisLabelStyle),
    splitLine: {show: true, lineStyle: {color: '#fff', width: 1}},
    name: p.r === 2 ? 'Iterations' : '', nameLocation: 'middle', nameGap: 15,
    nameMoveOverlap: false,
    nameTextStyle: {color: '#555', fontSize: 9.5, fontFamily: FONT}
  });
  const lim = yLimits(p.m, p.s);
  const yVals = p.t.map(Number);
  const labelMap = {};
  p.t.forEach(t => { labelMap[Number(t).toFixed(4)] = t; });
  let name, nameGap, nts = {color: '#555', fontSize: 9.5, fontFamily: FONT};
  if (p.k === 'f1') {
    name = '{i|F}{s|1}';
    nameGap = 27;
    nts.rich = {i: {fontStyle: 'italic', fontSize: 10, color: '#555', fontFamily: FONT},
                s: {fontSize: 7, color: '#555', fontFamily: FONT, padding: [4, 0, 0, 0]}};
  } else {
    name = p.k === 'cleaned' ? '# cleaned' : '# queries';
    nameGap = 16;
  }
  yAxes.push({type: 'value', gridIndex: gi, min: lim[0], max: lim[1],
    axisLine: {show: false},
    axisTick: {show: true, length: 3, lineStyle: {color: '#555', width: 0.8}, customValues: yVals},
    axisLabel: Object.assign({customValues: yVals, margin: 4,
      formatter: v => labelMap[Number(v).toFixed(4)] ?? String(v)}, axisLabelStyle),
    splitLine: {show: true, lineStyle: {color: '#fff', width: 1}},
    name: name, nameLocation: 'middle', nameGap: nameGap, nameRotate: 90,
    nameMoveOverlap: false,
    nameTextStyle: nts
  });
  // uncertainty bands
  DRAW_ORDER.forEach(k => {
    const band = p.x.map((x, i) => [x, p.m[k][i] - p.s[k][i], p.m[k][i] + p.s[k][i]]);
    series.push({
      type: 'custom', xAxisIndex: gi, yAxisIndex: gi, silent: true, z: 1,
      data: band, encode: {x: 0, y: 1},
      renderItem: (params, api) => {
        if (params.dataIndex !== 0) return null;
        const up = band.map(d => api.coord([d[0], d[2]]));
        const lo = band.map(d => api.coord([d[0], d[1]])).reverse();
        return {type: 'polygon', shape: {points: up.concat(lo)},
          style: {fill: COLORS[k], opacity: 0.35}};
      }
    });
  });
  // mean lines
  DRAW_ORDER.forEach(k => {
    series.push({
      type: 'line', name: SERIES_NAMES[k], xAxisIndex: gi, yAxisIndex: gi, z: 3,
      data: p.x.map((x, i) => [x, p.m[k][i]]),
      symbol: 'circle', showAllSymbol: true,
      symbolSize: v => (v[0] % 10 === 0 ? 6 : 0),
      lineStyle: {color: COLORS[k], width: 1.3},
      itemStyle: {color: COLORS[k]},
      emphasis: {disabled: true}
    });
  });
});

const chart = echarts.init(document.getElementById('c'), null, {renderer: 'canvas'});
chart.setOption({
  animation: false,
  backgroundColor: '#fff',
  textStyle: {fontFamily: FONT},
  legend: {
    data: SERIES_NAMES.map((n, i) => ({name: n, icon: 'rect', itemStyle: {color: COLORS[i]}})),
    top: 1, left: 'center',
    itemWidth: 46, itemHeight: 5, itemGap: 39,
    textStyle: {fontSize: 20, color: '#000', fontFamily: FONT, padding: [0, 0, 0, 9]},
    borderColor: '#ccc', borderWidth: 1, borderRadius: 4, padding: [8, 8, 8, 6],
    backgroundColor: '#fff'
  },
  grid: grids, xAxis: xAxes, yAxis: yAxes, series: series
});
</script></body></html>
